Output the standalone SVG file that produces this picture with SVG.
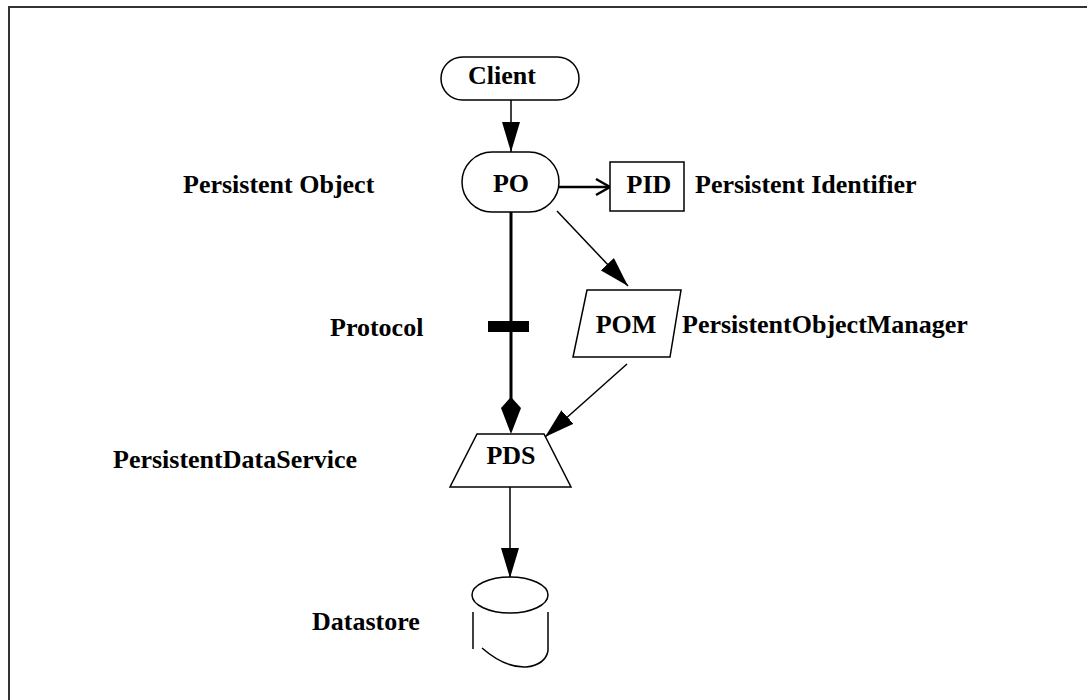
<svg xmlns="http://www.w3.org/2000/svg" width="1087" height="700" viewBox="0 0 1087 700">
<defs>
<style>
text{font-family:"Times New Roman",Times,"Liberation Serif",Tinos,"DejaVu Serif",serif;font-weight:bold;font-size:26px;fill:#000}
.n{fill:#fff;stroke:#000;stroke-width:1.5}
.c{fill:none;stroke:#000;stroke-width:1.5}
.ck{fill:none;stroke:#000;stroke-width:3}
</style>
<marker id="fa" viewBox="0 0 30 18" refX="30" refY="9" markerWidth="30" markerHeight="18" markerUnits="userSpaceOnUse" orient="auto">
<path d="M0,0 L30,9 L0,18 Z" fill="#000"/>
</marker>
<marker id="oa" viewBox="0 0 18 20" refX="16" refY="10" markerWidth="18" markerHeight="20" markerUnits="userSpaceOnUse" orient="auto">
<path d="M2,2 L16,10 L2,18" fill="none" stroke="#000" stroke-width="2.5"/>
</marker>
</defs>
<rect x="0" y="0" width="1087" height="700" fill="#fff"/>
<rect x="9" y="7" width="1100" height="720" fill="none" stroke="#333" stroke-width="2"/>

<g id="connectors">
<line class="c" x1="511" y1="100" x2="511" y2="152" marker-end="url(#fa)"/>
<line x1="559" y1="187" x2="610" y2="187" stroke="#000" stroke-width="2.5" marker-end="url(#oa)"/>
<line class="c" x1="557" y1="211" x2="628" y2="286" marker-end="url(#fa)"/>
<line class="ck" x1="511" y1="212" x2="511" y2="400"/>
<rect x="488" y="321" width="41" height="11" fill="#000"/>
<path d="M511,397 L521,408 L511,434 L501,408 Z" fill="#000"/>
<line class="c" x1="627" y1="364" x2="545" y2="437" marker-end="url(#fa)"/>
<line class="c" x1="510" y1="487" x2="510" y2="578" marker-end="url(#fa)"/>
</g>

<g id="client">
<rect class="n" x="441" y="57" width="138" height="43" rx="21.5"/>
<text x="502" y="84" text-anchor="middle">Client</text>
</g>
<g id="po">
<rect class="n" x="462" y="152" width="97" height="60" rx="30"/>
<text x="511" y="192" text-anchor="middle">PO</text>
<text x="183" y="193">Persistent Object</text>
</g>
<g id="pid">
<rect class="n" x="610" y="162" width="74" height="49"/>
<text x="649" y="193" text-anchor="middle">PID</text>
<text x="695" y="193">Persistent Identifier</text>
</g>
<g id="pom">
<polygon class="n" points="587,290 681,290 670,357 573,357"/>
<text x="626" y="333" text-anchor="middle">POM</text>
<text x="682" y="333">PersistentObjectManager</text>
</g>
<g id="protocol">
<text x="330" y="336">Protocol</text>
</g>
<g id="pds">
<polygon class="n" points="477,434 544,434 571,487 450,487"/>
<text x="511" y="464" text-anchor="middle">PDS</text>
<text x="113" y="468">PersistentDataService</text>
</g>
<g id="datastore">
<ellipse class="n" cx="510" cy="595" rx="38" ry="18"/>
<line class="c" x1="473" y1="612" x2="473" y2="649"/>
<line class="c" x1="548" y1="612" x2="548" y2="651"/>
<path class="c" d="M482,648 Q505,668 526,667 Q545,665 548,651"/>
<text x="312" y="630">Datastore</text>
</g>
</svg>
